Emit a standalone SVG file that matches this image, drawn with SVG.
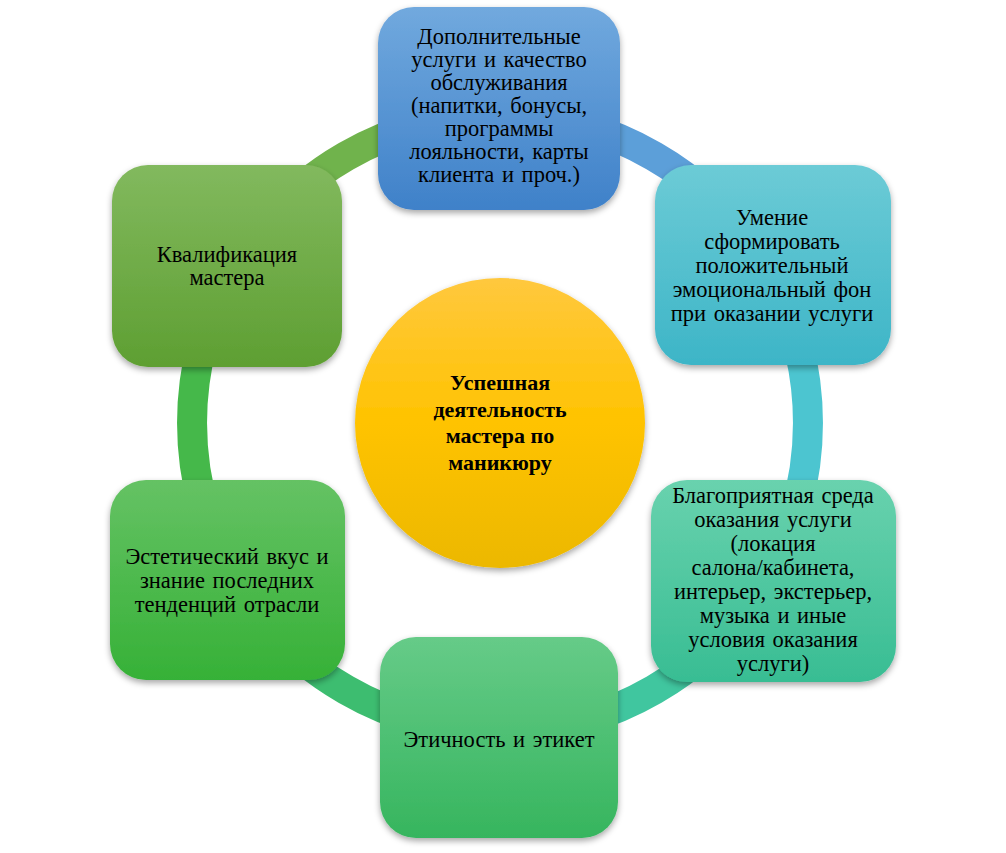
<svg xmlns="http://www.w3.org/2000/svg" width="1006" height="853" viewBox="0 0 1006 853">
<defs>
<style>
.t{font-family:"Liberation Serif","Times New Roman",serif;font-size:22.5px;fill:#000;text-anchor:middle;word-spacing:2px}
.b{font-weight:bold;font-size:22px;word-spacing:0}
.ring{fill:none;stroke-width:30}
</style>
<filter id="sh" x="-20%" y="-20%" width="140%" height="150%">
<feDropShadow dx="0" dy="3" stdDeviation="3" flood-color="#000" flood-opacity="0.35"/>
</filter>
<linearGradient id="gTop" x1="0" y1="0" x2="0" y2="1"><stop offset="0" stop-color="#71a9de"/><stop offset="1" stop-color="#3f81c9"/></linearGradient>
<linearGradient id="gRU" x1="0" y1="0" x2="0" y2="1"><stop offset="0" stop-color="#6ccbd6"/><stop offset="1" stop-color="#3db5c7"/></linearGradient>
<linearGradient id="gRL" x1="0" y1="0" x2="0" y2="1"><stop offset="0" stop-color="#69d2ae"/><stop offset="1" stop-color="#38bd93"/></linearGradient>
<linearGradient id="gB" x1="0" y1="0" x2="0" y2="1"><stop offset="0" stop-color="#66cb88"/><stop offset="1" stop-color="#36b55e"/></linearGradient>
<linearGradient id="gLL" x1="0" y1="0" x2="0" y2="1"><stop offset="0" stop-color="#65c264"/><stop offset="1" stop-color="#36b137"/></linearGradient>
<linearGradient id="gLU" x1="0" y1="0" x2="0" y2="1"><stop offset="0" stop-color="#82b95e"/><stop offset="1" stop-color="#5e9f32"/></linearGradient>
<linearGradient id="gC" x1="0" y1="0" x2="0" y2="1"><stop offset="0" stop-color="#ffc83e"/><stop offset="0.5" stop-color="#ffc300"/><stop offset="1" stop-color="#ecb800"/></linearGradient>
</defs>
<g id="connectors">
<path class="ring" stroke="#5c9fd9" d="M500,115 A308,308 0 0 1 766.7,269"/>
<path class="ring" stroke="#4cc5d0" d="M766.7,269 A308,308 0 0 1 766.7,577"/>
<path class="ring" stroke="#40c69f" d="M766.7,577 A308,308 0 0 1 500,731"/>
<path class="ring" stroke="#3dbd70" d="M500,731 A308,308 0 0 1 233.3,577"/>
<path class="ring" stroke="#45b84a" d="M233.3,577 A308,308 0 0 1 233.3,269"/>
<path class="ring" stroke="#70b34c" d="M233.3,269 A308,308 0 0 1 500,115"/>
</g>
<g id="center">
<circle cx="500" cy="423" r="145" fill="url(#gC)" filter="url(#sh)"/>
<text class="t b" x="500" y="390">Успешная</text>
<text class="t b" x="500" y="417">деятельность</text>
<text class="t b" x="500" y="443">мастера по</text>
<text class="t b" x="500" y="470">маникюру</text>
</g>
<g id="node-top">
<rect x="378" y="7" width="242" height="203" rx="36" fill="url(#gTop)" filter="url(#sh)"/>
<text class="t" x="499" y="44">Дополнительные</text>
<text class="t" x="499" y="67">услуги и качество</text>
<text class="t" x="499" y="90">обслуживания</text>
<text class="t" x="499" y="113">(напитки, бонусы,</text>
<text class="t" x="499" y="136">программы</text>
<text class="t" x="499" y="159">лояльности, карты</text>
<text class="t" x="499" y="182">клиента и проч.)</text>
</g>
<g id="node-right-upper">
<rect x="655" y="165" width="236" height="200" rx="36" fill="url(#gRU)" filter="url(#sh)"/>
<text class="t" x="772" y="225">Умение</text>
<text class="t" x="772" y="249">сформировать</text>
<text class="t" x="772" y="273">положительный</text>
<text class="t" x="772" y="297">эмоциональный фон</text>
<text class="t" x="772" y="321">при оказании услуги</text>
</g>
<g id="node-right-lower">
<rect x="651" y="480" width="245" height="202" rx="36" fill="url(#gRL)" filter="url(#sh)"/>
<text class="t" x="773" y="503">Благоприятная среда</text>
<text class="t" x="773" y="527">оказания услуги</text>
<text class="t" x="773" y="551">(локация</text>
<text class="t" x="773" y="575">салона/кабинета,</text>
<text class="t" x="773" y="599">интерьер, экстерьер,</text>
<text class="t" x="773" y="623">музыка и иные</text>
<text class="t" x="773" y="647">условия оказания</text>
<text class="t" x="773" y="671">услуги)</text>
</g>
<g id="node-bottom">
<rect x="380" y="637" width="238" height="201" rx="36" fill="url(#gB)" filter="url(#sh)"/>
<text class="t" x="499" y="747">Этичность и этикет</text>
</g>
<g id="node-left-lower">
<rect x="110" y="480" width="235" height="200" rx="36" fill="url(#gLL)" filter="url(#sh)"/>
<text class="t" x="227" y="564">Эстетический вкус и</text>
<text class="t" x="227" y="588">знание последних</text>
<text class="t" x="227" y="612">тенденций отрасли</text>
</g>
<g id="node-left-upper">
<rect x="112" y="165" width="230" height="202" rx="36" fill="url(#gLU)" filter="url(#sh)"/>
<text class="t" x="227" y="262">Квалификация</text>
<text class="t" x="227" y="285">мастера</text>
</g>
</svg>
